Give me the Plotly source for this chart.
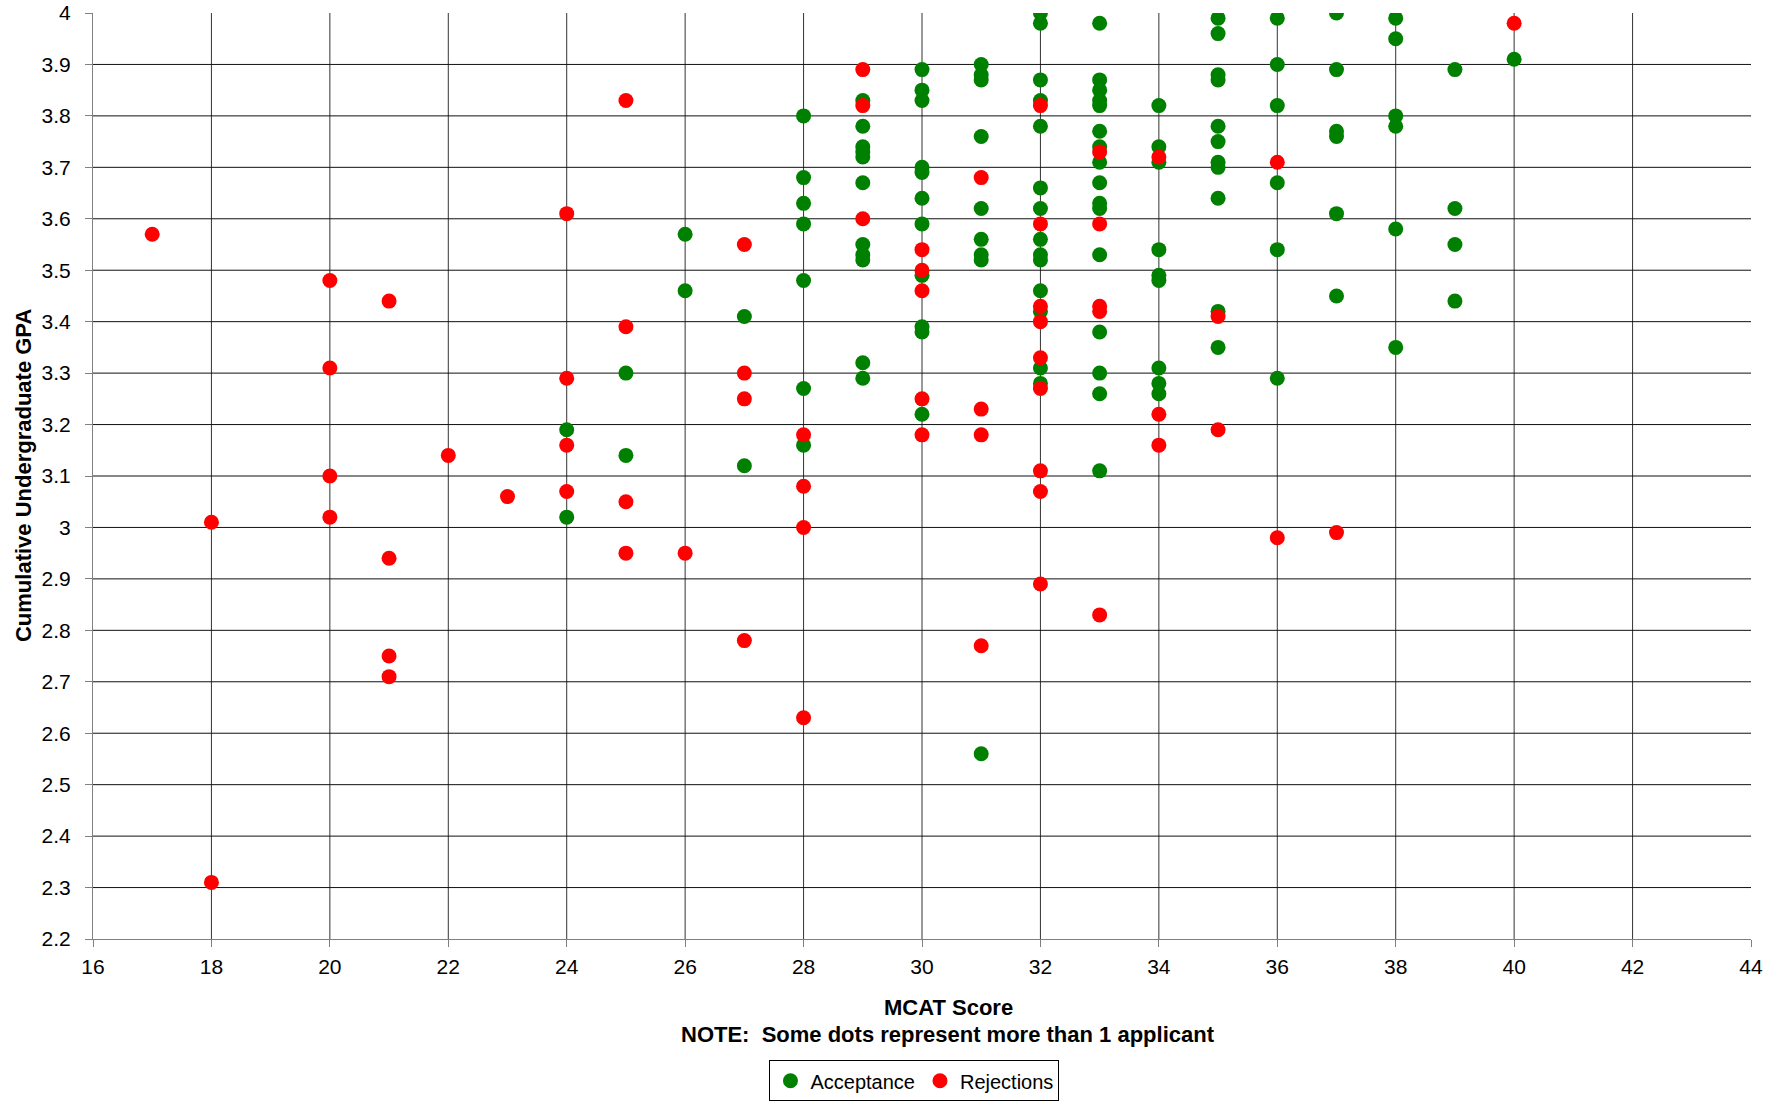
import plotly.graph_objects as go

# ---- Data ----
acc_mcat = (
    [24] * 2 + [25] * 2 + [26] * 2 + [27] * 2 + [28] * 7 + [29] * 11 + [30] * 11
    + [31] * 9 + [32] * 14 + [33] * 16 + [34] * 9 + [35] * 11 + [36] * 6
    + [37] * 6 + [38] * 6 + [39] * 4 + [40] * 1
)
acc_gpa = [
    3.19, 3.02,
    3.30, 3.14,
    3.57, 3.46,
    3.41, 3.12,
    3.80, 3.68, 3.63, 3.59, 3.48, 3.27, 3.16,
    3.83, 3.78, 3.74, 3.73, 3.72, 3.67, 3.55, 3.53, 3.52, 3.32, 3.29,
    3.89, 3.85, 3.83, 3.70, 3.69, 3.64, 3.59, 3.49, 3.39, 3.38, 3.22,
    3.90, 3.88, 3.87, 3.76, 3.62, 3.56, 3.53, 3.52, 2.56,
    4.00, 3.98, 3.87, 3.83, 3.78, 3.66, 3.62, 3.56, 3.53, 3.52, 3.46, 3.42, 3.31, 3.28,
    3.98, 3.87, 3.85, 3.83, 3.82, 3.77, 3.74, 3.71, 3.67, 3.63, 3.62, 3.53, 3.38, 3.30, 3.26, 3.11,
    3.82, 3.74, 3.71, 3.54, 3.49, 3.48, 3.31, 3.28, 3.26,
    3.99, 3.96, 3.88, 3.87, 3.78, 3.75, 3.71, 3.70, 3.64, 3.42, 3.35,
    3.99, 3.90, 3.82, 3.67, 3.54, 3.29,
    4.00, 3.89, 3.77, 3.76, 3.61, 3.45,
    3.99, 3.95, 3.80, 3.78, 3.58, 3.35,
    3.89, 3.62, 3.55, 3.44,
    3.91,
]

rej_mcat = (
    [17] * 1 + [18] * 2 + [20] * 4 + [21] * 4 + [22] * 1 + [23] * 1 + [24] * 4
    + [25] * 4 + [26] * 1 + [27] * 4 + [28] * 4 + [29] * 3 + [30] * 5 + [31] * 4
    + [32] * 9 + [33] * 5 + [34] * 3 + [35] * 2 + [36] * 2 + [37] * 1 + [40] * 1
)
rej_gpa = [
    3.57,
    3.01, 2.31,
    3.48, 3.31, 3.10, 3.02,
    3.44, 2.94, 2.75, 2.71,
    3.14,
    3.06,
    3.61, 3.29, 3.16, 3.07,
    3.83, 3.39, 3.05, 2.95,
    2.95,
    3.55, 3.30, 3.25, 2.78,
    3.18, 3.08, 3.00, 2.63,
    3.89, 3.82, 3.60,
    3.54, 3.50, 3.46, 3.25, 3.18,
    3.68, 3.23, 3.18, 2.77,
    3.82, 3.59, 3.43, 3.40, 3.33, 3.27, 3.11, 3.07, 2.89,
    3.73, 3.59, 3.43, 3.42, 2.83,
    3.72, 3.22, 3.16,
    3.41, 3.19,
    3.71, 2.98,
    2.99,
    3.98,
]

x_ticks = list(range(16, 45, 2))
y_ticks = [round(2.2 + 0.1 * i, 1) for i in range(19)]
y_tick_labels = ["2.2", "2.3", "2.4", "2.5", "2.6", "2.7", "2.8", "2.9", "3",
                 "3.1", "3.2", "3.3", "3.4", "3.5", "3.6", "3.7", "3.8", "3.9", "4"]

FONT = "Liberation Sans, Arial, sans-serif"

fig = go.Figure()
fig.add_trace(go.Scatter(
    x=acc_mcat, y=acc_gpa, mode="markers", name="Acceptance",
    marker=dict(color="#008000", size=15, line=dict(width=0)),
))
fig.add_trace(go.Scatter(
    x=rej_mcat, y=rej_gpa, mode="markers", name="Rejections",
    marker=dict(color="#FF0000", size=15, line=dict(width=0)),
))

# gridlines (no gridline at the top / right edges, as in the reference)
shapes = []
for v in x_ticks[1:-1]:
    shapes.append(dict(type="line", xref="x", yref="paper", x0=v, x1=v, y0=0, y1=1,
                       line=dict(color="#333333", width=1), layer="below"))
for v in y_ticks[1:-1]:
    shapes.append(dict(type="line", xref="paper", yref="y", x0=0, x1=1, y0=v, y1=v,
                       line=dict(color="#111111", width=1), layer="below"))

fig.update_layout(
    width=1787, height=1105,
    paper_bgcolor="white", plot_bgcolor="white",
    margin=dict(l=93, r=36, t=13, b=166, autoexpand=False),
    font=dict(family=FONT, size=20, color="black"),
    shapes=shapes,
    showlegend=True,
    hovermode=False,
    legend=dict(
        orientation="h", x=0.408, xanchor="left", y=-0.131, yanchor="top",
        bordercolor="#000000", borderwidth=1, bgcolor="white",
        font=dict(family=FONT, size=20, color="black"),
        itemwidth=30, tracegroupgap=0,
    ),
    xaxis=dict(
        range=[16, 44], tickmode="array", tickvals=x_ticks,
        ticks="outside", ticklen=7, tickcolor="#808080", tickwidth=1,
        showline=True, linecolor="#808080", linewidth=1,
        showgrid=False, zeroline=False, automargin=False,
        ticklabelstandoff=2, ticklabeloverflow="allow",
        tickfont=dict(family=FONT, size=21, color="black"),
    ),
    yaxis=dict(
        range=[2.2, 4.0], tickmode="array", tickvals=y_ticks, ticktext=y_tick_labels,
        ticks="outside", ticklen=7, tickcolor="#808080", tickwidth=1,
        showline=True, linecolor="#808080", linewidth=1,
        showgrid=False, zeroline=False, automargin=False,
        ticklabelstandoff=10, ticklabeloverflow="allow",
        tickfont=dict(family=FONT, size=21, color="black"),
    ),
    annotations=[
        dict(text="<b>MCAT Score</b>", xref="paper", yref="paper", x=0.5157, y=-0.0743,
             xanchor="center", yanchor="middle", showarrow=False,
             font=dict(family=FONT, size=22, color="black")),
        dict(text="<b>NOTE:  Some dots represent more than 1 applicant</b>", xref="paper", yref="paper",
             x=0.5157, y=-0.1029, xanchor="center", yanchor="middle", showarrow=False,
             font=dict(family=FONT, size=22, color="black")),
        dict(text="<b>Cumulative Undergraduate GPA</b>", xref="paper", yref="paper",
             x=-0.0422, y=0.5, xanchor="center", yanchor="middle", textangle=-90,
             showarrow=False, font=dict(family=FONT, size=22, color="black")),
    ],
)

fig.write_html(
    "out.html",
    config={"displayModeBar": False, "staticPlot": True},
    post_script="document.body.style.margin='0';document.body.style.overflow='hidden';",
)
